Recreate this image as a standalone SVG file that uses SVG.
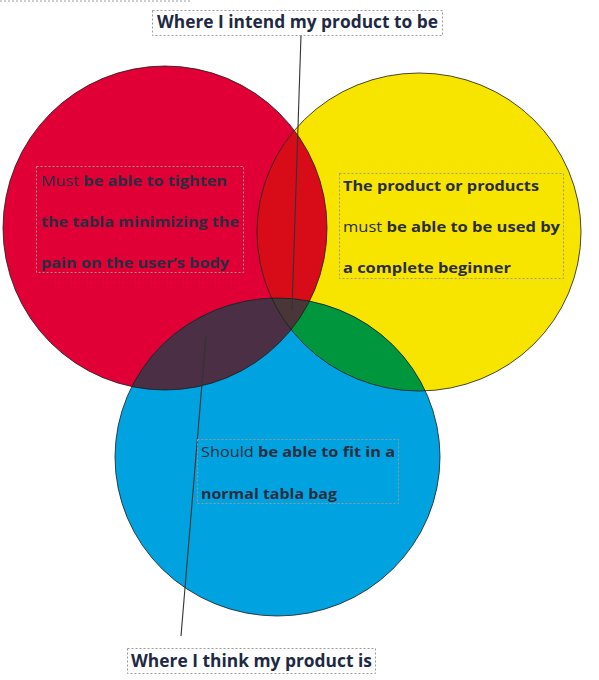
<svg xmlns="http://www.w3.org/2000/svg" width="599" height="680" viewBox="0 0 599 680">
<style>
.box{fill:none;stroke:#9a9a9a;stroke-width:1;stroke-dasharray:2 2}
.t{font-family:"Open Sans","DejaVu Sans",sans-serif;font-size:15px;fill:#2a2d40}
.b{font-weight:700}
.lbl{font-family:"Open Sans","DejaVu Sans",sans-serif;font-size:17px;font-weight:700;fill:#1e2a44}
.ol{fill:none;stroke:#1a1a1a;stroke-width:0.8}
.ptr{stroke:#333;stroke-width:1.1;fill:none}
</style>
<defs>
<clipPath id="cr"><circle cx="165" cy="228" r="162"/></clipPath>
<clipPath id="cy"><ellipse cx="419" cy="232" rx="162" ry="159"/></clipPath>
</defs>
<line x1="0" y1="1" x2="190" y2="1" class="box"/>
<g id="circles">
<circle id="red" cx="165" cy="228" r="162" fill="#e10035"/>
<ellipse id="yellow" cx="419" cy="232" rx="162" ry="159" fill="#f7e500"/>
<ellipse id="blue" cx="277.5" cy="457" rx="162.5" ry="159" fill="#00a3e0"/>
<ellipse cx="419" cy="232" rx="162" ry="159" fill="#d80c18" clip-path="url(#cr)"/>
<ellipse cx="277.5" cy="457" rx="162.5" ry="159" fill="#4b2f45" clip-path="url(#cr)"/>
<g clip-path="url(#cy)"><ellipse cx="277.5" cy="457" rx="162.5" ry="159" fill="#00963e"/></g>
<g clip-path="url(#cr)"><g clip-path="url(#cy)"><ellipse cx="277.5" cy="457" rx="162.5" ry="159" fill="#4a3538"/></g></g>
<circle cx="165" cy="228" r="162" class="ol"/>
<ellipse cx="419" cy="232" rx="162" ry="159" class="ol"/>
<ellipse cx="277.5" cy="457" rx="162.5" ry="159" class="ol"/>
</g>
<g id="connectors">
<line x1="301" y1="35" x2="292" y2="310" class="ptr"/>
<line x1="206" y1="335" x2="181" y2="636" class="ptr"/>
</g>
<g id="label-top">
<rect x="152.5" y="10.5" width="290" height="25" class="box"/>
<text x="157" y="28" class="lbl" textLength="281" lengthAdjust="spacingAndGlyphs">Where I intend my product to be</text>
</g>
<g id="label-bottom">
<rect x="127.5" y="648.5" width="248" height="25" class="box"/>
<text x="131" y="667" class="lbl" textLength="241" lengthAdjust="spacingAndGlyphs">Where I think my product is</text>
</g>
<g id="node-red">
<rect x="36.5" y="166.5" width="207" height="106" class="box"/>
<text x="41" y="186" class="t" textLength="186" lengthAdjust="spacingAndGlyphs">Must <tspan class="b">be able to tighten</tspan></text>
<text x="41" y="227" class="t b" textLength="198" lengthAdjust="spacingAndGlyphs">the tabla minimizing the</text>
<text x="41" y="268" class="t b" textLength="188" lengthAdjust="spacingAndGlyphs">pain on the user’s body</text>
</g>
<g id="node-yellow">
<rect x="339.5" y="173.5" width="224" height="105" class="box"/>
<text x="343" y="191" class="t b" textLength="196" lengthAdjust="spacingAndGlyphs">The product or products</text>
<text x="343" y="232" class="t" textLength="217" lengthAdjust="spacingAndGlyphs">must <tspan class="b">be able to be used by</tspan></text>
<text x="343" y="273" class="t b" textLength="168" lengthAdjust="spacingAndGlyphs">a complete beginner</text>
</g>
<g id="node-blue">
<rect x="197.5" y="439.5" width="201" height="64" class="box"/>
<text x="201" y="457" class="t" textLength="194" lengthAdjust="spacingAndGlyphs">Should <tspan class="b">be able to fit in a</tspan></text>
<text x="201" y="499" class="t b" textLength="136" lengthAdjust="spacingAndGlyphs">normal tabla bag</text>
</g>
</svg>
